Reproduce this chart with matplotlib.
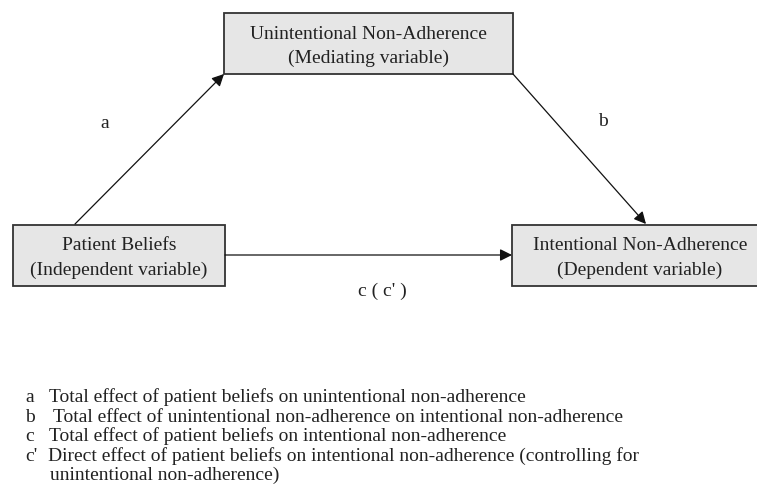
import matplotlib
matplotlib.use('AGG')
import matplotlib.pyplot as plt
from matplotlib.patches import Rectangle

# node labels
node_titles = ['Unintentional Non-Adherence', 'Patient Beliefs', 'Intentional Non-Adherence']
node_roles = ['(Mediating variable)', '(Independent variable)', '(Dependent variable)']
path_labels = ['a', 'b', "c ( c' )"]
legend_keys = ['a', 'b', 'c', "c'", '']
legend_texts = [
    'Total effect of patient beliefs on unintentional non-adherence',
    'Total effect of unintentional non-adherence on intentional non-adherence',
    'Total effect of patient beliefs on intentional non-adherence',
    'Direct effect of patient beliefs on intentional non-adherence (controlling for',
    'unintentional non-adherence)',
]

# layout (pixel coords, y down)
boxes = [(224, 13, 289, 61), (13, 224.5, 212, 61.5), (512, 224.5, 256, 61.5)]
arrows = [((75, 224), (224, 74)), ((513, 74), (646, 224)), ((225, 255), (512, 255))]
label_pos = [(105, 123), (603, 122), (382, 291)]
legend_x = [49, 53, 49, 48, 50]

plt.rcParams['font.family'] = ['Liberation Serif', 'DejaVu Serif']
txt_color = '#222222'

fig = plt.figure(figsize=(7.57, 4.95), dpi=100)
ax = fig.add_axes([0, 0, 1, 1])
ax.set_xlim(0, 757)
ax.set_ylim(495, 0)
ax.axis('off')

for (x, y, w, h), t, r in zip(boxes, node_titles, node_roles):
    ax.add_patch(Rectangle((x, y), w, h, facecolor='#e6e6e6', edgecolor='#333333', lw=1.3,
                           clip_on=True))
    ax.text(x + w / 2, y + 26, t, ha='center', va='baseline', fontsize=14, color=txt_color)
    ax.text(x + w / 2, y + 50, r, ha='center', va='baseline', fontsize=14, color=txt_color)

for (p0, p1) in arrows:
    ax.annotate('', xy=p1, xytext=p0,
                arrowprops=dict(arrowstyle='-|>', mutation_scale=18, lw=0.9,
                                color='#111111', shrinkA=0, shrinkB=0))

for (x, y), s in zip(label_pos, path_labels):
    ax.text(x, y, s, ha='center', va='center', fontsize=14, color=txt_color)

for i, (k, s) in enumerate(zip(legend_keys, legend_texts)):
    y = 402 + i * 19.6
    ax.text(25, y, k, ha='left', va='baseline', fontsize=14, color=txt_color)
    ax.text(legend_x[i], y, s, ha='left', va='baseline', fontsize=14, color=txt_color)

plt.savefig('out.png', dpi=100)
